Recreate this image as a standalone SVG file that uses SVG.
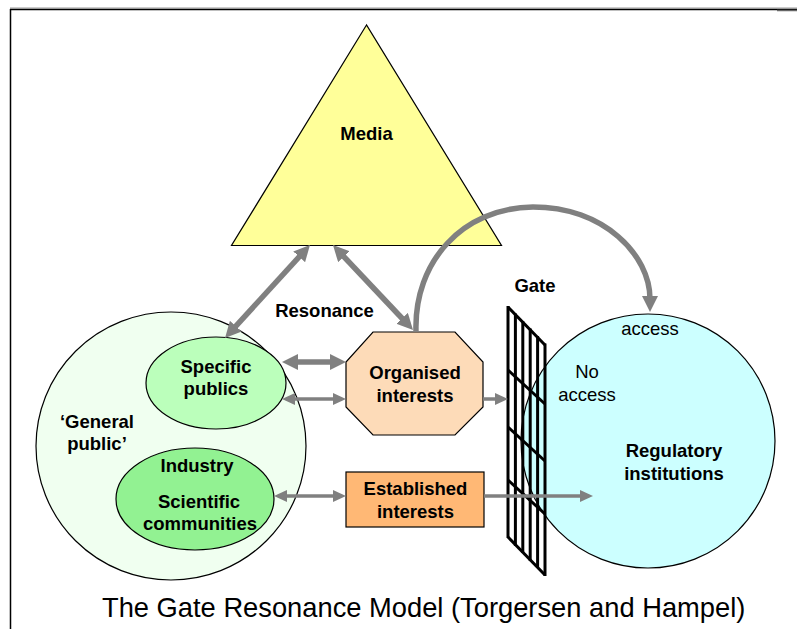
<svg xmlns="http://www.w3.org/2000/svg" width="797" height="629" viewBox="0 0 797 629">
<style>
.b{font-family:"Liberation Sans",Arial,sans-serif;font-weight:bold;font-size:18.5px;fill:#000;text-anchor:middle}
.n{font-family:"Liberation Sans",Arial,sans-serif;font-size:18.5px;fill:#000;text-anchor:middle}
.sh{stroke:#000;stroke-width:1.2}
.arT{fill:none;stroke:#808080;stroke-width:5.5}
.arS{fill:none;stroke:#808080;stroke-width:3.5}
.gate line{stroke:#000;stroke-width:3}
</style>
<defs>
<marker id="hb" viewBox="0 0 16 16" refX="3" refY="8" markerWidth="16" markerHeight="16" markerUnits="userSpaceOnUse" orient="auto-start-reverse"><path d="M0,0 L16,8 L0,16 Z" fill="#808080"/></marker>
<marker id="hs" viewBox="0 0 13 12" refX="2" refY="6" markerWidth="13" markerHeight="12" markerUnits="userSpaceOnUse" orient="auto-start-reverse"><path d="M0,0 L13,6 L0,12 Z" fill="#808080"/></marker>
</defs>
<rect width="797" height="629" fill="#fff"/>
<g id="frame">
<line x1="10" y1="8" x2="797" y2="8" stroke="#999" stroke-width="1"/>
<line x1="10" y1="9.5" x2="797" y2="9.5" stroke="#000" stroke-width="1.5"/>
<line x1="10.5" y1="9" x2="10.5" y2="629" stroke="#000" stroke-width="1.5"/>
<line x1="777" y1="10.5" x2="797" y2="10.5" stroke="#666" stroke-width="1.5"/>
</g>
<g id="media"><polygon class="sh" points="366.5,25 231.5,245.5 501.5,245.5" fill="#FFFF99"/><text class="b" x="366.5" y="140">Media</text></g>
<g id="general-public"><ellipse class="sh" cx="171" cy="446" rx="135" ry="134" fill="#F0FFF0"/><text class="b" x="97" y="428">‘General</text><text class="b" x="97" y="450">public’</text></g>
<g id="specific-publics"><ellipse class="sh" cx="216" cy="383" rx="70" ry="46" fill="#BBFFBB"/><text class="b" x="216" y="373">Specific</text><text class="b" x="216" y="395">publics</text></g>
<g id="industry-science"><ellipse class="sh" cx="195" cy="499" rx="79" ry="51" fill="#92F292"/><text class="b" x="197" y="472">Industry</text><text class="b" x="199" y="508">Scientific</text><text class="b" x="200" y="530">communities</text></g>
<g id="organised-interests"><polygon class="sh" points="373,332 455,332 483,362 483,407 455,435 373,435 346,407 346,362" fill="#FDDBB8"/><text class="b" x="415" y="379">Organised</text><text class="b" x="415" y="402">interests</text></g>
<g id="established-interests"><rect class="sh" x="346" y="472" width="138" height="55" fill="#FFB875"/><text class="b" x="415.5" y="495">Established</text><text class="b" x="415.5" y="518">interests</text></g>
<g id="regulatory-institutions"><circle class="sh" cx="648" cy="441" r="127" fill="#CCFFFF"/><text class="n" x="650" y="335">access</text><text class="n" x="587" y="378">No</text><text class="n" x="587" y="401">access</text><text class="b" x="674" y="457">Regulatory</text><text class="b" x="674" y="480">institutions</text></g>
<g id="gate" class="gate">
<line x1="508" y1="306" x2="508" y2="538"/>
<line x1="515.4" y1="313.5" x2="515.4" y2="546"/>
<line x1="522.8" y1="321" x2="522.8" y2="553"/>
<line x1="530.2" y1="328.5" x2="530.2" y2="561"/>
<line x1="537.6" y1="336" x2="537.6" y2="568"/>
<line x1="545" y1="343.5" x2="545" y2="576"/>
<line x1="508" y1="307" x2="545" y2="345"/>
<line x1="508" y1="370" x2="545" y2="404"/>
<line x1="508" y1="427" x2="545" y2="461"/>
<line x1="508" y1="480" x2="545" y2="514"/>
<line x1="508" y1="537" x2="545" y2="575"/>
<text class="b" x="535" y="292" stroke="none">Gate</text>
</g>
<g id="connectors">
<line class="arT" x1="233.8" y1="328.4" x2="301.2" y2="254.6" marker-start="url(#hb)" marker-end="url(#hb)"/>
<line class="arT" x1="341.9" y1="254.5" x2="404.1" y2="320.5" marker-start="url(#hb)" marker-end="url(#hb)"/>
<path class="arT" d="M416,331 C414,262 462,208 533,207 C604,207 650,255 650,299" marker-end="url(#hb)"/>
<line class="arT" x1="295" y1="362" x2="333" y2="362" marker-start="url(#hb)" marker-end="url(#hb)"/>
<line class="arS" x1="293" y1="399" x2="335" y2="399" marker-start="url(#hs)" marker-end="url(#hs)"/>
<line class="arS" x1="483" y1="399" x2="497" y2="399" marker-end="url(#hs)"/>
<line class="arS" x1="285" y1="496" x2="335" y2="496" marker-start="url(#hs)" marker-end="url(#hs)"/>
<line class="arS" x1="484" y1="496" x2="582" y2="496" marker-end="url(#hs)"/>
<text class="b" x="324.5" y="317">Resonance</text>
</g>
<text x="102" y="617" font-family="'Liberation Sans',Arial,sans-serif" font-size="27.3" fill="#000">The Gate Resonance Model (Torgersen and Hampel)</text>
</svg>
